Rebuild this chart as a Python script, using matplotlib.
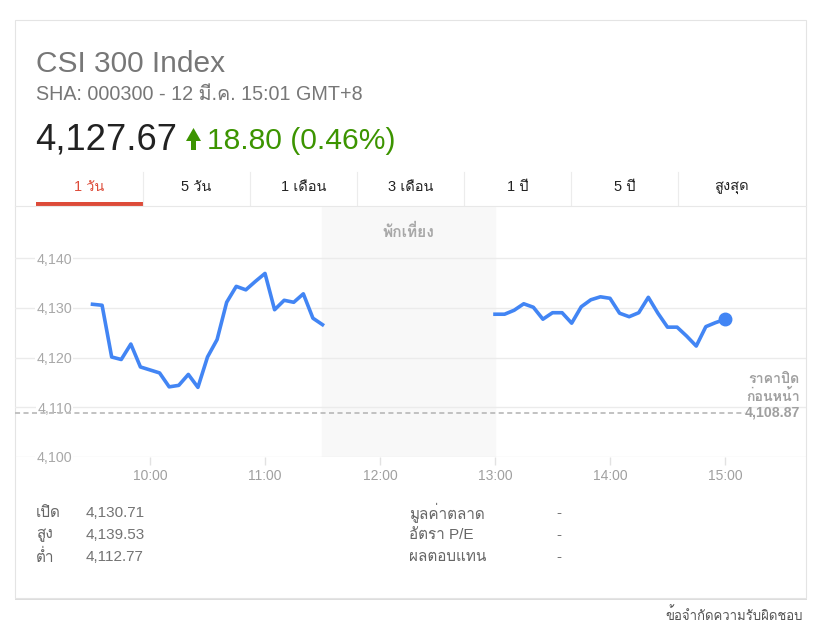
import matplotlib
matplotlib.use('Agg')
import matplotlib.pyplot as plt
from matplotlib import font_manager
from matplotlib.ft2font import FT2Font
from matplotlib.patches import Rectangle, Polygon
from matplotlib.lines import Line2D
import matplotlib.transforms as mtransforms

# --- data ---
title = 'CSI 300 Index'
subtitle = 'SHA: 000300 - 12 มี.ค. 15:01 GMT+8'
last_price = '4,127.67'
change_text = '18.80 (0.46%)'
tabs = ['1 วัน', '5 วัน', '1 เดือน', '3 เดือน', '1 ปี', '5 ปี', 'สูงสุด']

am_times = ['09:30', '09:35', '09:40', '09:45', '09:50', '09:55',
            '10:00', '10:05', '10:10', '10:15', '10:20', '10:25',
            '10:30', '10:35', '10:40', '10:45', '10:50', '10:55',
            '11:00', '11:05', '11:10', '11:15', '11:20', '11:25', '11:30']
am_values = [4130.7, 4130.5, 4120.1, 4119.6, 4122.7, 4118.1,
             4117.5, 4116.9, 4114.1, 4114.4, 4116.6, 4114.0,
             4120.1, 4123.6, 4131.1, 4134.3, 4133.6, 4135.3,
             4136.9, 4129.6, 4131.5, 4131.1, 4132.8, 4127.9, 4126.6]
pm_times = ['13:00', '13:05', '13:10', '13:15', '13:20', '13:25',
            '13:30', '13:35', '13:40', '13:45', '13:50', '13:55',
            '14:00', '14:05', '14:10', '14:15', '14:20', '14:25',
            '14:30', '14:35', '14:40', '14:45', '14:50', '14:55', '15:00']
pm_values = [4128.7, 4128.7, 4129.5, 4130.8, 4130.1, 4127.7,
             4129.0, 4129.0, 4126.9, 4130.2, 4131.6, 4132.2,
             4131.9, 4128.9, 4128.2, 4129.0, 4132.1, 4128.9,
             4126.1, 4126.1, 4124.3, 4122.3, 4126.2, 4127.0, 4127.67]
prev_close = 4108.87
lunch = ('11:30', '13:00')
x_ticks = ['10:00', '11:00', '12:00', '13:00', '14:00', '15:00']
y_ticks = [4100, 4110, 4120, 4130, 4140]
y_labels = ['4,100', '4,110', '4,120', '4,130', '4,140']

stat_names_left = ['เปิด', 'สูง', 'ต่ำ']
stat_values_left = ['4,130.71', '4,139.53', '4,112.77']
stat_names_right = ['มูลค่าตลาด', 'อัตรา P/E', 'ผลตอบแทน']
stat_values_right = ['-', '-', '-']
footer = 'ข้อจำกัดความรับผิดชอบ'


def hrs(t):
    h, m = t.split(':')
    return int(h) + int(m) / 60


def find_thai_font():
    for f in font_manager.fontManager.ttflist:
        try:
            if 0x0E01 in FT2Font(f.fname).get_charmap():
                return f.name
        except Exception:
            pass
    return None


thai = find_thai_font()
fams = ['Liberation Sans'] + ([thai] if thai else []) + ['DejaVu Sans']
plt.rcParams['font.family'] = fams

W, H = 828, 628
fig = plt.figure(figsize=(W / 100, H / 100), dpi=100)
fig.patch.set_facecolor('white')


def T(x, y, s, **kw):
    return fig.text(x / W, 1 - y / H, s, **kw)


def L(x1, y1, x2, y2, **kw):
    fig.add_artist(Line2D([x1 / W, x2 / W], [1 - y1 / H, 1 - y2 / H], **kw))


def R(x1, y1, x2, y2, **kw):
    fig.add_artist(Rectangle((x1 / W, 1 - y2 / H), (x2 - x1) / W, (y2 - y1) / H, **kw))


# card + shadow
R(15, 21, 807, 599.5, facecolor='#dddddd', edgecolor='none', zorder=-6)
R(15, 20, 806, 598, facecolor='white', edgecolor='#e4e4e4', lw=0.8, zorder=-5)

# header
T(36, 64, title, fontsize=21.5, color='#777777', va='center')
T(36, 94, subtitle, fontsize=14.2, color='#777777', va='center')
T(35, 140, last_price, fontsize=26.2, color='#222222', va='center')
green = '#3c9400'
fig.add_artist(Polygon([(186 / W, 1 - 141 / H), (193.5 / W, 1 - 128 / H), (201 / W, 1 - 141 / H),
                        (196 / W, 1 - 141 / H), (196 / W, 1 - 150 / H), (191 / W, 1 - 150 / H),
                        (191 / W, 1 - 141 / H)], closed=True, facecolor=green, edgecolor='none'))
T(207, 141, change_text, fontsize=21.6, color=green, va='center')

# tabs
tab_w = 107
for i, name in enumerate(tabs):
    x0 = 36 + i * tab_w
    T(x0 + tab_w / 2, 187, name, fontsize=10.5, ha='center', va='center',
      color='#dd4b39' if i == 0 else '#222222')
    if i > 0:
        L(x0, 172, x0, 205, color='#ececec', lw=0.8)
L(15, 206, 806, 206, color='#e8e8e8', lw=0.8)
R(36, 202, 36 + tab_w, 205.5, facecolor='#dd4b39', edgecolor='none')

# chart
ax = fig.add_axes([15 / W, 1 - 457 / H, 791 / W, 250 / H])
ax.patch.set_alpha(0)
px_per_hr = 115
ax.set_xlim(10 - 135 / px_per_hr, 10 + 656 / px_per_hr)
ax.set_ylim(4100, 4100 + 250 / 4.975)

ax.axvspan(hrs(lunch[0]), hrs(lunch[1]), color='#f8f8f8', zorder=0)
ax.text((hrs(lunch[0]) + hrs(lunch[1])) / 2, 0.9, 'พักเที่ยง',
        transform=mtransforms.blended_transform_factory(ax.transData, ax.transAxes),
        ha='center', va='center', fontsize=11.2, color='#a8a8a8', fontweight='bold')

ax.set_yticks(y_ticks)
ax.set_yticklabels(y_labels)
ax.yaxis.grid(True, color='#ebebeb', lw=1)
ax.set_axisbelow(True)
ax.tick_params(axis='y', length=0, pad=-41, labelsize=10.3, labelcolor='#a8a8a8')
for lbl in ax.get_yticklabels():
    lbl.set_bbox(dict(facecolor='white', edgecolor='none', pad=1))

ax.set_xticks([hrs(t) for t in x_ticks])
ax.set_xticklabels(x_ticks)
ax.tick_params(axis='x', length=6, width=1, color='#e2e2e2', pad=2.5,
               labelsize=10, labelcolor='#a0a0a0')
for s in ax.spines.values():
    s.set_visible(False)

blue = '#4285f4'
ax.axhline(prev_close, xmin=0, xmax=(745 - 15) / 791, color='#bdbdbd',
           lw=1.3, ls=(0, (2.8, 1.9)), zorder=1.8)
ax.plot([hrs(t) for t in am_times], am_values, color=blue, lw=2.6,
        solid_joinstyle='round', zorder=3)
ax.plot([hrs(t) for t in pm_times], pm_values, color=blue, lw=2.6,
        solid_joinstyle='round', zorder=3)
ax.plot([hrs(pm_times[-1])], [pm_values[-1]], 'o', color=blue, ms=9, zorder=4)
ax.annotate('ราคาปิด\nก่อนหน้า\n{:,.2f}'.format(prev_close),
            xy=(0.992, prev_close),
            xycoords=mtransforms.blended_transform_factory(ax.transAxes, ax.transData),
            xytext=(0, -4), textcoords='offset pixels', ha='right', va='baseline',
            fontsize=10.2, color='#a0a0a0', fontweight='bold', linespacing=1.2)

# stats
for i in range(3):
    y = 513 + i * 22
    T(36, y, stat_names_left[i], fontsize=11, color='#666666', va='center')
    T(86, y, stat_values_left[i], fontsize=11, color='#737373', va='center')
    T(409, y, stat_names_right[i], fontsize=11, color='#666666', va='center')
    T(556, y, stat_values_right[i], fontsize=11, color='#737373', va='center')

T(803, 615, footer, fontsize=9.5, color='#555555', ha='right', va='center')

fig.savefig('out.png', dpi=100, facecolor='white')
